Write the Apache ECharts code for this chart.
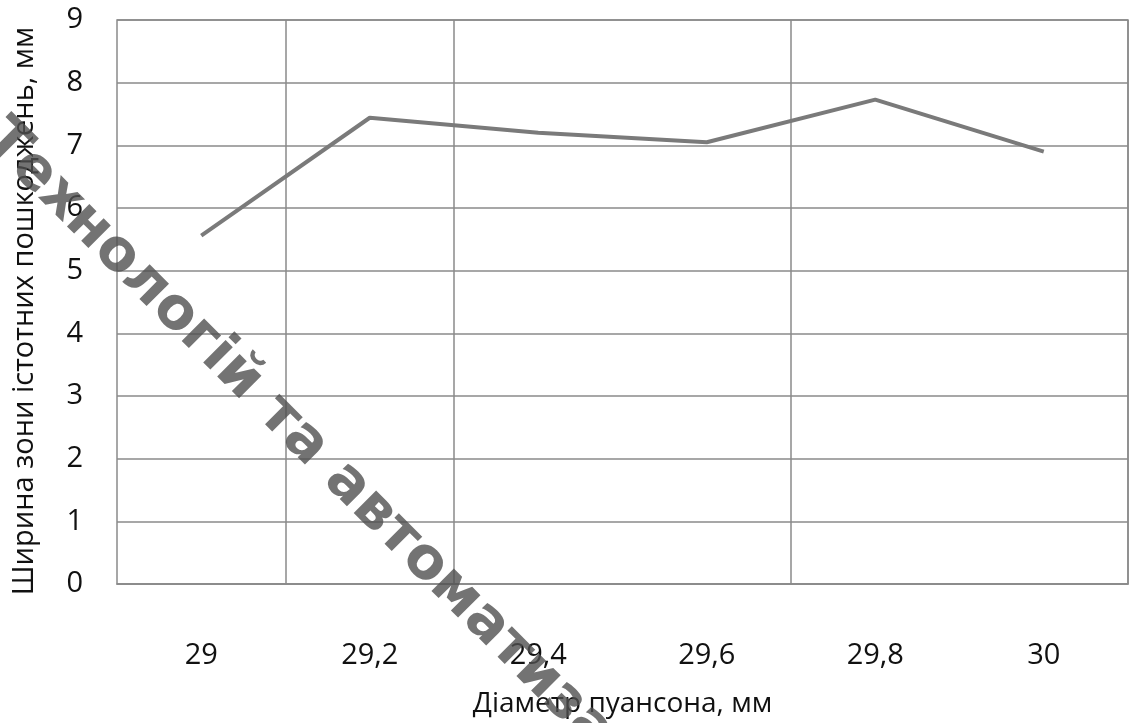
<!DOCTYPE html>
<html>
<head>
<meta charset="utf-8">
<script src="https://cdn.jsdelivr.net/npm/echarts@6/dist/echarts.min.js"></script>
<style>
  html, body { margin: 0; padding: 0; background: #fff; }
  #chart { width: 1131px; height: 723px; }
</style>
</head>
<body>
<div id="chart"></div>
<script>
// Punch diameter (mm) and width of the significant damage zone (mm)
const diameters = ['29', '29,2', '29,4', '29,6', '29,8', '30'];
const zoneWidth = [5.56, 7.44, 7.20, 7.05, 7.73, 6.90];
const yTicks = [0, 1, 2, 3, 4, 5, 6, 7, 8, 9];

const xTitle = 'Діаметр пуансона, мм';
const yTitle = 'Ширина зони істотних пошкоджень, мм';
const stampText = 'Технологій та автоматизації';

// category boundaries that carry a vertical grid line
const vLineAt = [1, 2, 4];

const fontFamily = '"Open Sans", "Noto Sans", sans-serif';
const gridColor = '#8a8a8a';

const chart = echarts.init(document.getElementById('chart'), null, { renderer: 'canvas' });

chart.setOption({
  animation: false,
  backgroundColor: '#ffffff',
  grid: {
    left: 117, right: 3, top: 20, bottom: 135,
    show: true, borderColor: gridColor, borderWidth: 1.5, backgroundColor: 'transparent'
  },
  xAxis: {
    type: 'category',
    data: diameters,
    boundaryGap: true,
    name: xTitle,
    nameLocation: 'middle',
    nameGap: 106,
    nameTextStyle: { fontFamily, fontSize: 28, color: '#111' },
    axisLine: { show: true, lineStyle: { color: gridColor, width: 1.5 } },
    axisTick: { show: false },
    axisLabel: { margin: 57, fontFamily, fontSize: 29, color: '#111' },
    splitLine: {
      show: true,
      interval: (i) => vLineAt.includes(i),
      lineStyle: { color: gridColor, width: 1.5 }
    }
  },
  yAxis: {
    type: 'value',
    min: yTicks[0],
    max: yTicks[yTicks.length - 1],
    interval: 1,
    name: yTitle,
    nameLocation: 'middle',
    nameGap: 78,
    nameTextStyle: { fontFamily, fontSize: 29, color: '#111', padding: [0, 18, 0, 0] },
    axisLine: { show: false },
    axisTick: { show: false },
    axisLabel: { margin: 34, fontFamily, fontSize: 29, color: '#111' },
    splitLine: { show: true, lineStyle: { color: gridColor, width: 1.5 } }
  },
  series: [{
    type: 'line',
    data: zoneWidth,
    showSymbol: false,
    symbol: 'none',
    lineStyle: { color: '#7a7a7a', width: 4 },
    z: 3
  }],
  graphic: [{
    type: 'text',
    x: -8,
    y: 130,
    rotation: -45 * Math.PI / 180,
    z: 100,
    style: {
      text: stampText,
      font: 'bold 58px "DejaVu Sans", sans-serif',
      fill: 'rgba(80,80,80,0.8)',
      textAlign: 'left',
      textVerticalAlign: 'middle'
    }
  }]
});
</script>
</body>
</html>
